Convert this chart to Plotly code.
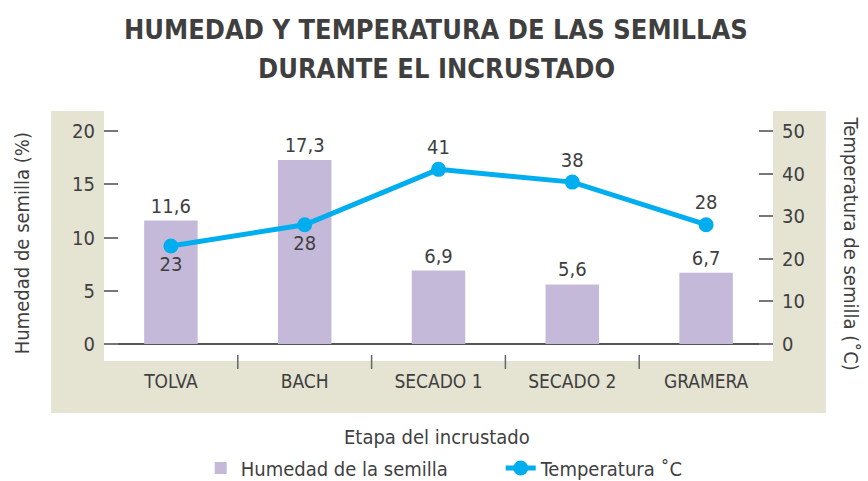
import plotly.graph_objects as go

etapas = ["TOLVA", "BACH", "SECADO 1", "SECADO 2", "GRAMERA"]
humedad = [11.6, 17.3, 6.9, 5.6, 6.7]
temperatura = [23, 28, 41, 38, 28]
temp_pos = ["bottom center", "bottom center", "top center", "top center", "top center"]

FONT = "DejaVu Sans Condensed, Liberation Sans Narrow, sans-serif"
TXT = "#3f3f3f"
BEIGE = "#E5E3D2"

fig = go.Figure()

fig.add_trace(go.Bar(
    x=etapas, y=humedad,
    name="Humedad de la semilla",
    marker=dict(color="#C5B9DA", line=dict(width=0)),
    width=0.4,
    text=[f"{v:.1f}".replace(".", ",") for v in humedad],
    textposition="outside",
    textfont=dict(size=20, color=TXT),
    cliponaxis=False,
))

fig.add_trace(go.Scatter(
    x=etapas, y=temperatura,
    name="Temperatura ˚C",
    yaxis="y2",
    mode="lines+markers+text",
    line=dict(color="#00AEEF", width=5),
    marker=dict(color="#00AEEF", size=15),
    text=[str(v) for v in temperatura],
    textposition=temp_pos,
    textfont=dict(size=20, color=TXT),
    cliponaxis=False,
))

# beige frame around the plot area, white plot area on top
fig.add_shape(type="rect", xref="paper", yref="paper", layer="below",
              x0=-0.079, x1=1.079, y0=-0.208, y1=1.0,
              fillcolor=BEIGE, line=dict(width=0))
fig.add_shape(type="rect", xref="paper", yref="paper", layer="below",
              x0=0, x1=1, y0=0, y1=1.0,
              fillcolor="white", line=dict(width=0))

# category separators
for b in [0.5, 1.5, 2.5, 3.5]:
    fig.add_shape(type="line", xref="x", yref="paper",
                  x0=b, x1=b, y0=0.024, y1=-0.032,
                  line=dict(color="#666666", width=1.5))

# title as two annotations (multi-line titles get clipped at the top)
title_lines = ["HUMEDAD Y TEMPERATURA DE LAS SEMILLAS", "DURANTE EL INCRUSTADO"]
for line, ty in zip(title_lines, [1.324, 1.172]):
    fig.add_annotation(text=f"<b>{line}</b>",
                       xref="paper", yref="paper", x=0.497, y=ty,
                       xanchor="center", yanchor="middle", showarrow=False,
                       font=dict(size=27, color=TXT, family=FONT))

fig.add_annotation(text="Humedad de semilla (%)", xref="paper", yref="paper",
                   x=-0.123, y=0.47, xanchor="center", yanchor="middle",
                   textangle=-90, showarrow=False,
                   font=dict(size=20, color=TXT))
fig.add_annotation(text="Temperatura de semilla (˚C)", xref="paper", yref="paper",
                   x=1.118, y=0.47, xanchor="center", yanchor="middle",
                   textangle=90, showarrow=False,
                   font=dict(size=20, color=TXT))
fig.add_annotation(text="Etapa del incrustado", xref="paper", yref="paper",
                   x=0.498, y=-0.304, xanchor="center", yanchor="middle",
                   showarrow=False,
                   font=dict(size=20, color=TXT))

fig.update_layout(
    width=868, height=481,
    margin=dict(l=104, r=95, t=111, b=120),
    paper_bgcolor="white",
    plot_bgcolor="white",
    separators=",.",
    font=dict(family=FONT, color=TXT, size=20),
    xaxis=dict(
        range=[-0.5, 4.5],
        showgrid=False, showline=False, ticks="",
        ticklabelstandoff=7,
        tickfont=dict(size=19, color=TXT),
    ),
    yaxis=dict(
        range=[-1.6, 21.9],
        tickvals=[0, 5, 10, 15, 20],
        ticks="inside", ticklen=14, tickcolor="#777777", tickwidth=1.5,
        ticklabelstandoff=8,
        showgrid=False, showline=False,
        zeroline=True, zerolinecolor="#555555", zerolinewidth=1.5,
        tickfont=dict(size=20, color=TXT),
    ),
    yaxis2=dict(
        overlaying="y", side="right",
        range=[-4, 54.7],
        tickvals=[0, 10, 20, 30, 40, 50],
        ticks="inside", ticklen=14, tickcolor="#777777", tickwidth=1.5,
        ticklabelstandoff=8,
        showgrid=False, showline=False, zeroline=False,
        tickfont=dict(size=20, color=TXT),
    ),
    legend=dict(
        orientation="h", x=0.593, xanchor="center",
        yref="container", y=0.027, yanchor="middle",
        font=dict(size=20, color=TXT), entrywidth=255,
        bgcolor="rgba(0,0,0,0)",
    ),
    showlegend=True,
)

fig.write_html("out.html", config={"displayModeBar": False},
               post_script="document.body.style.margin='0';")
